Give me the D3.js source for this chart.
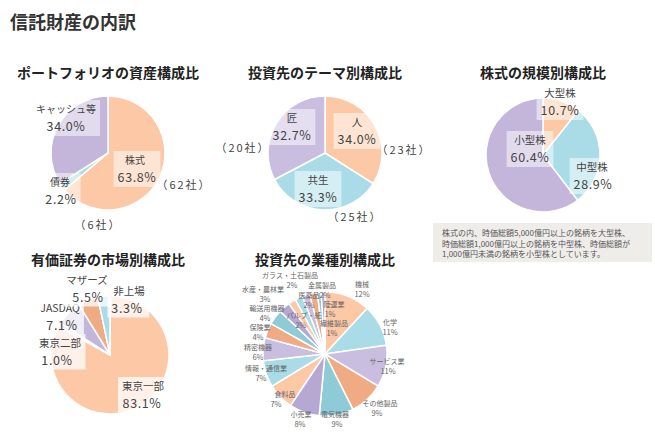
<!DOCTYPE html>
<html>
<head>
<meta charset="utf-8">
<script src="https://cdn.jsdelivr.net/npm/d3@7"></script>
<style>
  body { margin: 0; background: #fff; }
  svg { display: block; font-family: "Noto Sans CJK JP", "Noto Sans", sans-serif; }
</style>
</head>
<body>
<div id="chart"></div>
<script>
// data
var portfolioCats = ['株式', '債券', 'キャッシュ等'];
var portfolioVals = [63.8, 2.2, 34.0];
var portfolioCounts = ['（62社）', '（6社）', null];

var themeCats = ['人', '共生', '匠'];
var themeVals = [34.0, 33.3, 32.7];
var themeCounts = ['（23社）', '（25社）', '（20社）'];

var sizeCats = ['大型株', '中型株', '小型株'];
var sizeVals = [10.7, 28.9, 60.4];

var marketCats = ['東京一部', '東京二部', 'JASDAQ', 'マザーズ', '非上場'];
var marketVals = [83.1, 1.0, 7.1, 5.5, 3.3];

var sectorCats = ['機械', '化学', 'サービス業', 'その他製品', '電気機器', '小売業', '食料品',
  '情報・通信業', '精密機器', '保険業', '輸送用機器', '水産・農林業', 'ガラス・土石製品',
  'パルプ・紙', '医薬品', '金属製品', '陸運業', '繊維製品'];
var sectorVals = [12, 11, 11, 9, 9, 8, 7, 7, 6, 4, 4, 3, 2, 2, 2, 2, 1, 1];

var noteLines = [
  '株式の内、時価総額5,000億円以上の銘柄を大型株、',
  '時価総額1,000億円以上の銘柄を中型株、時価総額が',
  '1,000億円未満の銘柄を小型株としています。'
];

// colours
var peach = '#fcc8a6', blue = '#a9dce6', lavender = '#c9bde0',
    orange = '#f0aa84', teal = '#8fcbd6', purple = '#b6a8d2', lilac = '#c4b6da';

var W = 655, H = 435;
var svg = d3.select('#chart').append('svg').attr('width', W).attr('height', H);

svg.append('text').attr('x', 10).attr('y', 29)
  .attr('font-size', 18).attr('font-weight', 700).attr('fill', '#333')
  .text('信託財産の内訳');

var pie = d3.pie().sort(null).value(function (d) { return d; });

function drawPie(opt) {
  var g = svg.append('g').attr('transform', 'translate(' + opt.cx + ',' + opt.cy + ')');
  var arc = d3.arc().innerRadius(0).outerRadius(opt.r);
  g.selectAll('path')
    .data(pie(opt.vals))
    .enter().append('path')
    .attr('d', arc)
    .attr('fill', function (d, i) { return opt.colors[i % opt.colors.length]; })
    .attr('stroke', '#fff')
    .attr('stroke-width', opt.stroke || 1.5);

  svg.append('text')
    .attr('x', opt.tx).attr('y', opt.ty)
    .attr('text-anchor', 'middle')
    .attr('font-size', 14).attr('font-weight', 700).attr('fill', '#222')
    .text(opt.title);

  // labels
  opt.cats.forEach(function (c, i) {
    var p = opt.labelPos[i];
    if (!p) return;
    var lg = svg.append('g');
    var bg = lg.append('rect');
    lg.append('text')
      .attr('x', p[0]).attr('y', p[1])
      .attr('text-anchor', 'middle')
      .attr('font-size', opt.nameSize).attr('fill', opt.textColor)
      .text(c);
    lg.append('text')
      .attr('x', p[0] + (p[2] || 0)).attr('y', p[1] + opt.lineGap)
      .attr('text-anchor', 'middle')
      .attr('font-size', opt.pctSize).attr('fill', opt.textColor)
      .attr('letter-spacing', opt.pctSpacing || 0)
      .text(opt.fmt(opt.vals[i]));
    if (opt.boxOpacity) {
      var b = lg.node().getBBox();
      bg.attr('x', b.x - 4).attr('y', b.y - 1)
        .attr('width', b.width + 8).attr('height', b.height + 2)
        .attr('fill', '#fff').attr('opacity', opt.boxOpacity);
    } else {
      bg.remove();
    }
  });

  if (opt.counts) {
    opt.counts.forEach(function (c, i) {
      if (!c) return;
      var p = opt.countPos[i];
      svg.append('text')
        .attr('x', p[0]).attr('y', p[1])
        .attr('text-anchor', 'middle')
        .attr('font-size', 11).attr('fill', '#444')
        .attr('letter-spacing', 2)
        .text(c);
    });
  }
}

var fmt1 = function (v) { return v.toFixed(1) + '%'; };
var fmt0 = function (v) { return Math.round(v) + '%'; };

drawPie({
  cx: 108, cy: 153, r: 57, tx: 108, ty: 78,
  title: 'ポートフォリオの資産構成比',
  cats: portfolioCats, vals: portfolioVals,
  colors: [peach, blue, lilac],
  labelPos: [[135, 164, 2], [60, 186, 1], [66, 113, 0]],
  nameSize: 10, pctSize: 12.5, pctSpacing: 0.6, lineGap: 18, textColor: '#444',
  fmt: fmt1, boxOpacity: 0.5,
  counts: portfolioCounts, countPos: [[184, 189], [98, 229]]
});

drawPie({
  cx: 325, cy: 153, r: 57, tx: 325, ty: 78,
  title: '投資先のテーマ別構成比',
  cats: themeCats, vals: themeVals,
  colors: [peach, blue, lavender],
  labelPos: [[357, 126, 0], [318, 184, 0], [292, 122, 0]],
  nameSize: 10.5, pctSize: 12.5, pctSpacing: 0.6, lineGap: 18, textColor: '#444',
  fmt: fmt1, boxOpacity: 0.5,
  counts: themeCounts, countPos: [[404, 154], [355, 221], [243, 152]]
});

drawPie({
  cx: 543, cy: 155, r: 57, tx: 543, ty: 78,
  title: '株式の規模別構成比',
  cats: sizeCats, vals: sizeVals,
  colors: [peach, blue, lilac],
  labelPos: [[560, 97, 0], [592, 171, 1], [530, 144, 0]],
  nameSize: 10.5, pctSize: 12.5, pctSpacing: 0.6, lineGap: 18, textColor: '#444',
  fmt: fmt1, boxOpacity: 0.5
});

drawPie({
  cx: 110, cy: 355, r: 59, tx: 108, ty: 265,
  title: '有価証券の市場別構成比',
  cats: marketCats, vals: marketVals,
  colors: [peach, lavender, lilac, orange, blue],
  labelPos: [[143, 390, -1], [60, 347, -3], [60, 312, 2], [87, 284, 1], [129, 295, -2]],
  nameSize: 10.5, pctSize: 12.5, pctSpacing: 0.6, lineGap: 17.5, textColor: '#444',
  fmt: fmt1, boxOpacity: 0.75
});

drawPie({
  cx: 325, cy: 354, r: 62, tx: 325, ty: 265,
  title: '投資先の業種別構成比',
  cats: sectorCats, vals: sectorVals,
  colors: [peach, blue, lavender, orange, teal, purple],
  labelPos: [
    [362, 287, 0], [390, 325, 0], [387, 364, 1], [380, 406, -3], [335, 417, 2],
    [301, 417, -1], [285, 397, -9], [266, 371, -5], [258, 350, 0], [260, 330, -2],
    [267, 311, -2], [263, 292, 2], [290, 278, 2], [304, 318, -3], [309, 298, 0],
    [322, 288, 3], [334, 307, -4], [334, 326, -2]
  ],
  nameSize: 7, pctSize: 7.5, lineGap: 10, textColor: '#666',
  fmt: fmt0, boxOpacity: 0
});

// note box
var note = svg.append('g');
note.append('rect').attr('x', 433).attr('y', 223).attr('width', 219).attr('height', 39)
  .attr('fill', '#efede9');
note.selectAll('text').data(noteLines).enter().append('text')
  .attr('x', 442).attr('y', function (d, i) { return 236 + i * 10.5; })
  .attr('font-size', 8).attr('fill', '#555')
  .text(function (d) { return d; });
</script>
</body>
</html>
